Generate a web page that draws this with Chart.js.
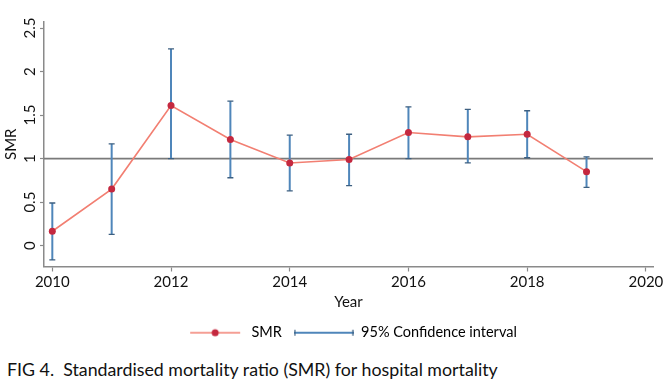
<!DOCTYPE html>
<html><head><meta charset="utf-8">
<script src="https://cdn.jsdelivr.net/npm/chart.js@4/dist/chart.umd.min.js"></script>
<style>
html,body{margin:0;padding:0;background:#fff;}
#wrap{position:absolute;left:0;top:0;width:669px;height:350px;}
#cap{position:absolute;left:7px;top:358px;font:17.8px Lato, sans-serif;color:#111;white-space:nowrap;}
</style></head><body>
<div id="wrap"><canvas id="c"></canvas></div>
<div id="cap">FIG 4.&nbsp; Standardised mortality ratio (SMR) for hospital mortality</div>
<script>
const years = [2010, 2011, 2012, 2013, 2014, 2015, 2016, 2017, 2018, 2019];
const smr = [0.165, 0.65, 1.61, 1.22, 0.95, 0.99, 1.30, 1.25, 1.28, 0.85];
const ciLower = [-0.165, 0.13, 1.0, 0.78, 0.63, 0.69, 1.0, 0.95, 1.01, 0.67];
const ciUpper = [0.49, 1.17, 2.26, 1.66, 1.27, 1.28, 1.595, 1.565, 1.55, 1.02];
const xTicks = [2010, 2012, 2014, 2016, 2018, 2020];
const yTicks = [0, 0.5, 1, 1.5, 2, 2.5];
const yTickLabels = ['0', '0.5', '1', '1.5', '2', '2.5'];
const refValue = 1;

const FONT = 'Lato, sans-serif';
const LINE_COL = '#f27f72';
const PT_COL = '#c4283f';
const CI_COL = '#4f86ba';
const CAP_COL = '#3d5f80';
const AXIS_COL = '#8a8a8a';

function makeIcon(type) {
  const c = document.createElement('canvas');
  c.width = 60; c.height = 12;
  const g = c.getContext('2d');
  if (type === 'smr') {
    g.strokeStyle = LINE_COL; g.lineWidth = 1.5;
    g.beginPath(); g.moveTo(6, 6); g.lineTo(56, 6); g.stroke();
    g.fillStyle = PT_COL; g.beginPath(); g.arc(31, 6, 3.5, 0, Math.PI * 2); g.fill();
  } else {
    g.strokeStyle = CI_COL; g.lineWidth = 2;
    g.beginPath(); g.moveTo(0, 6); g.lineTo(60, 6); g.stroke();
    g.strokeStyle = CAP_COL; g.lineWidth = 1.2;
    g.beginPath(); g.moveTo(1, 3); g.lineTo(1, 9); g.moveTo(59, 3); g.lineTo(59, 9); g.stroke();
  }
  return c;
}
const icons = { smr: makeIcon('smr'), ci: makeIcon('ci') };

const extras = {
  id: 'extras',
  afterLayout(chart) {
    chart.legend.left += 24; chart.legend.right += 24;
  },
  beforeDatasetsDraw(chart) {
    const { ctx, chartArea } = chart;
    const xs = chart.scales.x, ys = chart.scales.y;
    ctx.save();
    const yr = ys.getPixelForValue(refValue);
    ctx.strokeStyle = '#7a7a7a'; ctx.lineWidth = 1.6;
    ctx.beginPath(); ctx.moveTo(chartArea.left, yr); ctx.lineTo(chartArea.right, yr); ctx.stroke();
    years.forEach((yv, i) => {
      const x = xs.getPixelForValue(yv);
      const y1 = ys.getPixelForValue(ciLower[i]);
      const y2 = ys.getPixelForValue(ciUpper[i]);
      ctx.strokeStyle = CI_COL; ctx.lineWidth = 2;
      ctx.beginPath(); ctx.moveTo(x, y1); ctx.lineTo(x, y2); ctx.stroke();
      ctx.strokeStyle = CAP_COL; ctx.lineWidth = 1.3;
      ctx.beginPath(); ctx.moveTo(x - 3, y1); ctx.lineTo(x + 3, y1);
      ctx.moveTo(x - 3, y2); ctx.lineTo(x + 3, y2); ctx.stroke();
    });
    ctx.restore();
  },
  afterDraw(chart) {
    const { ctx } = chart;
    const ys = chart.scales.y;
    ctx.save();
    ctx.fillStyle = '#111';
    ctx.font = '15px ' + FONT;
    ctx.textAlign = 'center'; ctx.textBaseline = 'middle';
    yTicks.forEach((v, i) => {
      const y = ys.getPixelForValue(v);
      ctx.save(); ctx.translate(30, y); ctx.rotate(-Math.PI / 2);
      ctx.fillText(yTickLabels[i], 0, 0); ctx.restore();
    });
    ctx.restore();
  }
};

new Chart(document.getElementById('c'), {
  type: 'line',
  data: {
    datasets: [{
      label: 'SMR',
      data: years.map((y, i) => ({ x: y, y: smr[i] })),
      borderColor: LINE_COL, borderWidth: 1.6,
      pointBackgroundColor: PT_COL, pointBorderColor: PT_COL,
      pointRadius: 3.5, pointBorderWidth: 0, tension: 0
    }]
  },
  options: {
    responsive: true, maintainAspectRatio: false, animation: false,
    layout: { padding: { top: 22, right: 16, left: 0, bottom: 0 } },
    plugins: {
      tooltip: { enabled: false },
      legend: {
        position: 'bottom',
        labels: {
          usePointStyle: true, pointStyleWidth: 60, padding: 12,
          color: '#111', font: { family: FONT, size: 14.5 },
          generateLabels() {
            return [
              { text: 'SMR', pointStyle: icons.smr, fillStyle: 'transparent', strokeStyle: 'transparent', lineWidth: 0 },
              { text: '95% Confidence interval', pointStyle: icons.ci, fillStyle: 'transparent', strokeStyle: 'transparent', lineWidth: 0 }
            ];
          }
        }
      }
    },
    scales: {
      x: {
        type: 'linear', min: 2009.86, max: 2020.12,
        afterBuildTicks(s) { s.ticks = xTicks.map(v => ({ value: v })); },
        ticks: { color: '#111', font: { family: FONT, size: 15 }, padding: 2, maxRotation: 0, callback: v => String(v) },
        grid: { drawOnChartArea: false, color: AXIS_COL, tickLength: 5, tickWidth: 1.2 },
        border: { color: AXIS_COL, width: 1.5 },
        title: { display: true, text: 'Year', color: '#111', font: { family: FONT, size: 15 }, padding: { top: 0, bottom: 2 } }
      },
      y: {
        min: -0.24, max: 2.57,
        afterBuildTicks(s) { s.ticks = yTicks.map(v => ({ value: v })); },
        afterFit(s) { s.width = 44; },
        ticks: { display: false },
        grid: { drawOnChartArea: false, color: AXIS_COL, tickLength: 4, tickWidth: 1.2 },
        border: { color: AXIS_COL, width: 1.5 },
        title: { display: true, text: 'SMR', color: '#111', font: { family: FONT, size: 15 }, padding: { top: 2, bottom: 0 } }
      }
    }
  },
  plugins: [extras]
});
</script>
</body></html>
